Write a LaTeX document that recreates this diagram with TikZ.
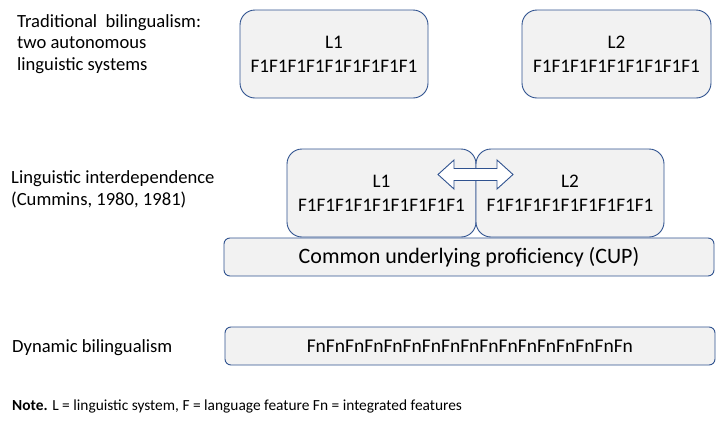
\documentclass[tikz,border=0pt]{standalone}
\usepackage{fontspec}
\setmainfont{Carlito}
\definecolor{boxline}{HTML}{2F528F}
\definecolor{boxfill}{HTML}{F2F2F2}
\begin{document}
\begin{tikzpicture}[x=1pt,y=-1pt,
  bigbox/.style={draw=boxline, fill=boxfill, line width=0.9pt, rounded corners=15pt,
    minimum width=#1, minimum height=88pt, inner sep=0pt, align=center,
    font=\fontsize{19.2}{24}\selectfont},
  barbox/.style={draw=boxline, fill=boxfill, line width=0.9pt, rounded corners=6pt,
    minimum width=490pt, minimum height=38pt, inner sep=0pt},
  lbl/.style={anchor=base west, align=left, inner sep=0pt,
    font=\fontsize{18.6}{21.7}\selectfont},
  blockarrow/.style={draw=boxline, fill=white, line width=0.9pt, line join=miter}]
\useasboundingbox (0,0) rectangle (716,421);

% Row 1
\node[lbl] (trad) at (17,70.4) {Traditional~ bilingualism:\\two autonomous\\linguistic systems};
\node[bigbox=188pt] (tl1) at (334,54) {L1\\F1F1F1F1F1F1F1F1F1};
\node[bigbox=189pt] (tl2) at (616.5,54) {L2\\F1F1F1F1F1F1F1F1F1};

% Row 2
\node[lbl] (inter) at (11,205) {Linguistic interdependence\\(Cummins, 1980, 1981)};
\node[barbox, font=\fontsize{22}{26}\selectfont] (cup) at (469,257) {Common underlying proficiency (CUP)};
\node[bigbox=189pt] (ml1) at (381.5,193) {L1\\F1F1F1F1F1F1F1F1F1};
\node[bigbox=188pt] (ml2) at (570,193) {L2\\F1F1F1F1F1F1F1F1F1};
\coordinate (ar) at (475.5,174.5);
\draw[blockarrow] ([xshift=-37.5pt]ar) -- ++(16,-14.5) -- ++(0,8.5) -- ++(43,0) -- ++(0,-8.5)
  -- ++(16,14.5) -- ++(-16,14.5) -- ++(0,-8.5) -- ++(-43,0) -- ++(0,8.5) -- cycle;

% Row 3
\node[lbl] (dynl) at (12,352) {Dynamic bilingualism};
\node[barbox, font=\fontsize{19.5}{24}\selectfont] (dyn) at (470,346) {FnFnFnFnFnFnFnFnFnFnFnFnFnFnFnFnFn};

% Note
\node[anchor=base west, inner sep=0pt, font=\fontsize{15.4}{18}\selectfont] (note) at (12,410)
  {\textbf{Note.} L = linguistic system, F = language feature Fn = integrated features};
\end{tikzpicture}
\end{document}
